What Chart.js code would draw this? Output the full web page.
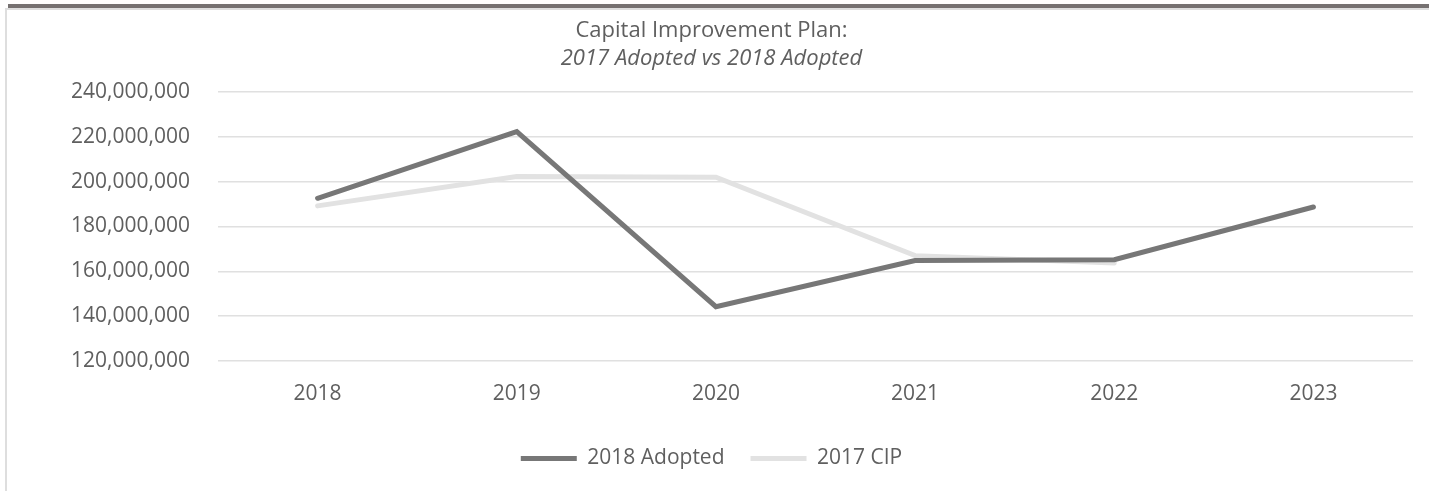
<!DOCTYPE html>
<html>
<head>
<meta charset="utf-8">
<script src="https://cdn.jsdelivr.net/npm/chart.js@4/dist/chart.umd.min.js"></script>
<style>
  html, body { margin: 0; padding: 0; background: #fff; overflow: hidden; }
  .frame { position: absolute; left: 5px; top: 8px; width: 1500px; height: 600px; border: 2px solid #dedede; }
  .bar { position: absolute; left: 8px; top: 4px; right: 0; height: 4px; background: #767171; }
  .wrap { position: absolute; left: 0; top: 0; width: 1429px; height: 491px; }
</style>
</head>
<body>
<div class="frame"></div>
<div class="bar"></div>
<div class="wrap"><canvas id="cip"></canvas></div>
<script>
  // chart data
  const years = ["2018", "2019", "2020", "2021", "2022", "2023"];
  const adopted2018 = [192600000, 222300000, 144200000, 164800000, 165200000, 188700000];
  const cip2017 = [189200000, 202300000, 202000000, 167000000, 163700000, null];
  const yTicks = { min: 120000000, max: 240000000, step: 20000000 };

  const textColor = "#5f5f5f";
  const fontFamily = "'Open Sans', sans-serif";

  const ctx = document.getElementById("cip").getContext("2d");
  new Chart(ctx, {
    type: "line",
    data: {
      labels: years,
      datasets: [
        {
          label: "2018 Adopted",
          data: adopted2018,
          borderColor: "#777777",
          backgroundColor: "#777777",
          borderWidth: 5,
          borderCapStyle: "round",
          pointRadius: 0,
          tension: 0,
        },
        {
          label: "2017 CIP",
          data: cip2017,
          borderColor: "#e2e2e2",
          backgroundColor: "#e2e2e2",
          borderWidth: 5,
          borderCapStyle: "round",
          pointRadius: 0,
          tension: 0,
        },
      ],
    },
    options: {
      responsive: true,
      maintainAspectRatio: false,
      animation: false,
      layout: { padding: { left: 10, right: 16, top: 0, bottom: 12 } },
      plugins: {
        title: {
          display: true,
          text: "Capital Improvement Plan:",
          color: textColor,
          font: { family: fontFamily, size: 22, weight: "normal", lineHeight: 1.25 },
          padding: { top: 17, bottom: 0 },
        },
        subtitle: {
          display: true,
          text: "2017 Adopted vs 2018 Adopted",
          color: textColor,
          font: { family: fontFamily, size: 22, style: "italic", weight: "normal", lineHeight: 1.25 },
          padding: { top: 0, bottom: 20 },
        },
        legend: {
          position: "bottom",
          labels: {
            color: textColor,
            font: { family: fontFamily, size: 21 },
            usePointStyle: true,
            pointStyle: "line",
            pointStyleWidth: 56,
            boxHeight: 6,
            padding: 26,
          },
        },
        tooltip: { enabled: false },
      },
      scales: {
        x: {
          offset: true,
          grid: { display: false },
          border: { display: false },
          ticks: { color: textColor, font: { family: fontFamily, size: 21 }, padding: 12 },
          afterFit: (scale) => { scale.height = 61; },
        },
        y: {
          min: yTicks.min,
          max: yTicks.max,
          grid: { color: "#e0e0e0", lineWidth: 1.5, drawTicks: false },
          border: { display: false },
          ticks: {
            stepSize: yTicks.step,
            color: textColor,
            font: { family: fontFamily, size: 21 },
            padding: 28,
            callback: (v) => v.toLocaleString("en-US"),
          },
          afterFit: (scale) => { scale.width = 208; },
        },
      },
    },
  });
</script>
</body>
</html>
